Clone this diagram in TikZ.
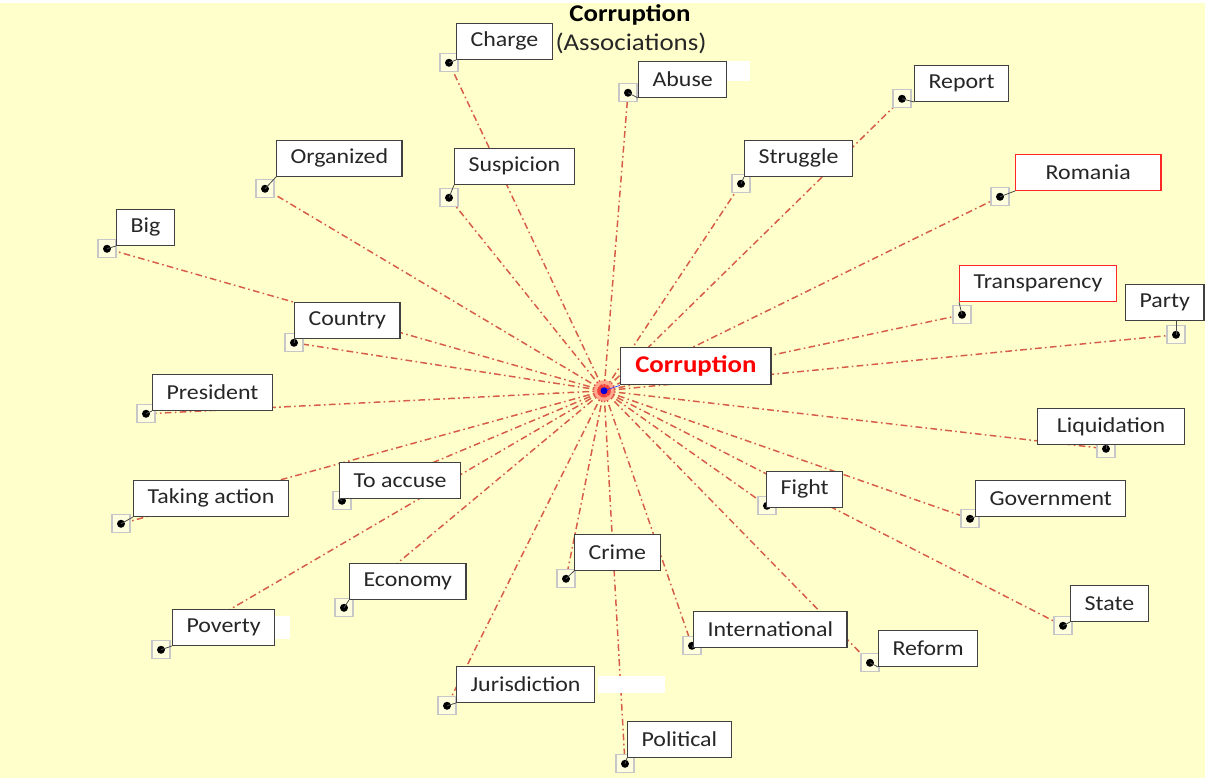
\documentclass[tikz,border=0pt]{standalone}
\usepackage{fontspec}
\setmainfont{Carlito}[FakeStretch=1.12]
\definecolor{paper}{RGB}{255,255,204}
\definecolor{spokered}{RGB}{214,92,72}
\pgfdeclarelayer{paperlayer}
\pgfdeclarelayer{spokelayer}
\pgfsetlayers{paperlayer,spokelayer,main}
\tikzset{word/.style={
            draw=black!75,
            fill=white,
            line width=0.9pt,
            inner xsep=10.5pt,
            inner ysep=0pt,
            minimum height=27pt,
            text=black!85,
            font=\fontsize{16}{18}\selectfont,
            anchor=north west
        },
        hotword/.style={
            word,
            draw=red!85
        },
        marker/.style={
            draw=black!22,
            fill=paper!60!white,
            line width=0.8pt,
            inner sep=0pt,
            minimum size=13.5pt,
            path picture={\fill[black] (path picture bounding box.center) circle (3pt);}
        },
        spoke/.style={
            spokered,
            line width=1.1pt,
            dash pattern=on 5pt off 2.5pt on 1.2pt off 2.5pt
        },
        tick/.style={
            black!70,
            line width=0.6pt
        }
    }

\begin{document}
\begin{tikzpicture}[x=0.75pt,y=-0.75pt]

        \begin{pgfonlayer}{paperlayer}
        \useasboundingbox[fill=white] (0,0) rectangle (1208,778);
        \fill[paper] (0,0) rectangle (1205,775);
        \end{pgfonlayer}

        % title
        \node[font=\fontsize{18}{20}\selectfont\bfseries] (title) at (630,12) {Corruption};
        \node[font=\fontsize{18}{20}\selectfont,text=black!85] (subtitle) at (631,41) {(Associations)};

        \coordinate (hub) at (604,388);

        % markers
        \node[marker] (chargeDot) at (449,60) {};
        \node[marker] (abuseDot) at (628,90) {};
        \node[marker] (reportDot) at (902,96) {};
        \node[marker] (organizedDot) at (265,186) {};
        \node[marker] (suspicionDot) at (449,195) {};
        \node[marker] (struggleDot) at (741,181) {};
        \node[marker] (romaniaDot) at (1000,194) {};
        \node[marker] (bigDot) at (107,246) {};
        \node[marker] (transparencyDot) at (962,312) {};
        \node[marker] (partyDot) at (1176,332) {};
        \node[marker] (countryDot) at (294,340) {};
        \node[marker] (presidentDot) at (146,411) {};
        \node[marker] (liquidationDot) at (1106,446) {};
        \node[marker] (actionDot) at (121,521) {};
        \node[marker] (accuseDot) at (342,498) {};
        \node[marker] (fightDot) at (767,503) {};
        \node[marker] (governmentDot) at (970,516) {};
        \node[marker] (crimeDot) at (566,576) {};
        \node[marker] (economyDot) at (344,605) {};
        \node[marker] (stateDot) at (1063,623) {};
        \node[marker] (povertyDot) at (161,647) {};
        \node[marker] (internationalDot) at (692,643) {};
        \node[marker] (reformDot) at (870,660) {};
        \node[marker] (jurisdictionDot) at (447,703) {};
        \node[marker] (politicalDot) at (625,761) {};

        % spokes
        \begin{pgfonlayer}{spokelayer}
        \foreach \w in {charge,abuse,report,organized,suspicion,struggle,romania,big,
                        transparency,party,country,president,liquidation,action,accuse,
                        fight,government,crime,economy,state,poverty,international,
                        reform,jurisdiction,political}
            \draw[spoke] (hub) -- (\w Dot.center);
        \end{pgfonlayer}

        % white patches
        \fill[white] (727,58) rectangle (750,78);
        \fill[white] (275,613) rectangle (290,636);
        \fill[white] (598,673) rectangle (665,690);

        % labels
        \node[word] (charge) at (456,20) {Charge};
        \node[word] (abuse) at (638,58) {Abuse};
        \node[word] (report) at (914,62) {Report};
        \node[word] (organized) at (276,137) {Organized};
        \node[word] (suspicion) at (454,145) {Suspicion};
        \node[word] (struggle) at (744,137) {Struggle};
        \node[hotword,minimum width=109pt] (romania) at (1015,151) {Romania};
        \node[word] (big) at (116,206) {Big};
        \node[hotword] (transparency) at (959,262) {Transparency};
        \node[word] (party) at (1125,281) {Party};
        \node[word] (country) at (294,299) {Country};
        \node[word] (president) at (152,371) {President};
        \node[word,minimum width=110pt] (liquidation) at (1037,405) {Liquidation};
        \node[word] (action) at (133,477) {Taking action};
        \node[word] (accuse) at (339,459) {To accuse};
        \node[word] (fight) at (766,468) {Fight};
        \node[word] (government) at (975,477) {Government};
        \node[word] (crime) at (574,531) {Crime};
        \node[word] (economy) at (349,560) {Economy};
        \node[word] (state) at (1070,582) {State};
        \node[word] (poverty) at (172,606) {Poverty};
        \node[word] (international) at (693,608) {International};
        \node[word] (reform) at (878,627) {Reform};
        \node[word] (jurisdiction) at (456,663) {Jurisdiction};
        \node[word] (political) at (627,718) {Political};

        \foreach \w in {charge,abuse,report,organized,suspicion,struggle,romania,big,
                        transparency,country,president,action,accuse,
                        fight,government,crime,economy,state,poverty,international,
                        reform,jurisdiction,political}
            \draw[tick] (\w Dot.center) -- (\w.south west);
        \draw[tick] (partyDot.center) -- (partyDot.center |- party.south);
        \draw[tick] (liquidationDot.center) -- (liquidationDot.center |- liquidation.south);

        % centre
        \node[word,minimum height=28pt,inner xsep=11pt,font=\fontsize{18}{20}\selectfont\bfseries,text=red] (core) at (620,344) {Corruption};
        \fill[red!75,opacity=0.45] (hub) circle (8pt);
        \fill[red!80,opacity=0.5] (hub) circle (5pt);
        \draw[blue!80,line width=0.5pt] (hub) -- (core.south west);
        \fill[blue!85!black] (hub) circle (2.6pt);

    \end{tikzpicture}
\end{document}
